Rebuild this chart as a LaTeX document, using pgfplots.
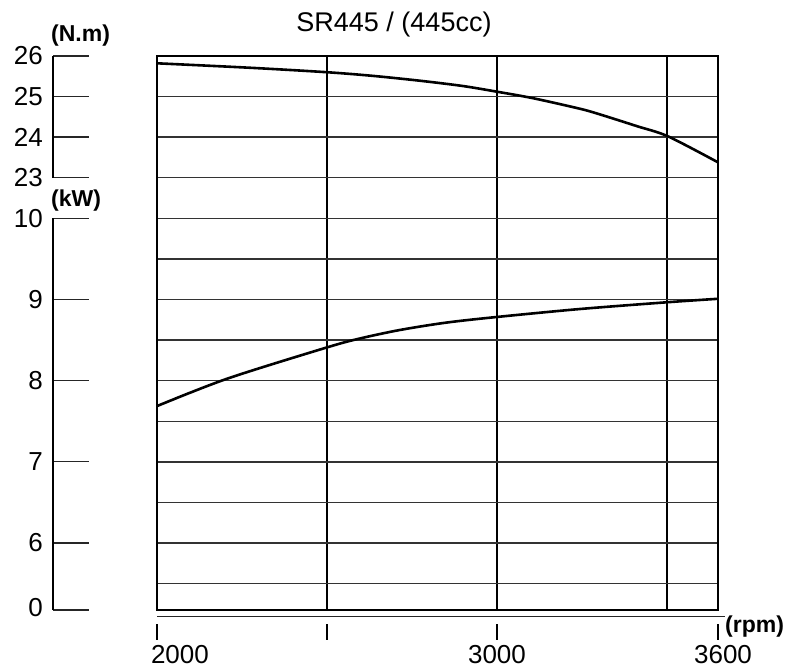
\documentclass[border=0pt]{standalone}
\usepackage{pgfplots}
\pgfplotsset{compat=1.18}
\usepackage{pgfplotstable}
\usepackage{fontspec}
\setmainfont{Liberation Sans}

\pgfplotstableread{
rpm T
2000 25.82
2274 25.71
2500 25.60
2635 25.51
2774 25.39
2900 25.26
3000 25.12
3106 24.96
3244 24.70
3303 24.56
3412 24.27
3503 24.02
3650 23.38
}\torque

\pgfplotstableread{
rpm P
2000 7.687
2206 8.024
2500 8.410
2597 8.520
2715 8.625
2850 8.715
3000 8.785
3244 8.883
3503 8.967
3650 9.009
}\power

\begin{document}
\begin{tikzpicture}[x=1pt,y=1pt]
\useasboundingbox (0,0) rectangle (792,671);

% main chart
\begin{axis}[
  at={(157pt,61pt)}, anchor=south west,
  width=561pt, height=554pt, scale only axis,
  xmin=2000, xmax=3650, ymin=5.175, ymax=12,
  xtick={2000,2500,3000,3500,3650}, ytick={5.5,6,...,12},
  xticklabels={}, yticklabels={},
  major tick length=0pt,
  xmajorgrids, ymajorgrids,
  x grid style={black, line width=2.3pt},
  y grid style={black!80, line width=1.4pt},
  axis line style={black, line width=2.2pt},
]
\addplot[black, line width=2.6pt, smooth] table[x=rpm, y expr=\thisrow{T}/2-1] {\torque};
\addplot[black, line width=2.6pt, smooth] table[x=rpm, y=P] {\power};
\end{axis}

% separate rpm scale below
\draw[black!85, line width=1.3pt] (157,54.5) -- (725,54.5);
\begin{axis}[
  at={(157pt,47pt)}, anchor=south west,
  width=561pt, height=20pt, scale only axis,
  xmin=2000, xmax=3650, ymin=0, ymax=1,
  axis x line=bottom, axis y line=none,
  axis line style={draw=none},
  xtick={2000,2500,3000,3650},
  xticklabels={\makebox[0pt][l]{\hspace{-6pt}2000},,3000,\hspace{10pt}3600},
  tick align=outside, major tick length=16pt,
  xtick style={black, line width=2pt},
  xticklabel style={font=\fontsize{26}{28}\selectfont, anchor=north, inner sep=0pt, yshift=-5pt},
]
\end{axis}
\node[anchor=west, inner sep=0pt, font=\bfseries\fontsize{23}{25}\selectfont] at (725,44) {(rpm)};

% torque scale
\begin{axis}[
  at={(53pt,493.3pt)}, anchor=south west,
  width=36pt, height=121.8pt, scale only axis,
  xmin=0, xmax=1, ymin=23, ymax=26,
  axis y line=left, axis x line=none,
  axis line style={-, black, line width=2pt},
  ytick={23,24,25,26}, yticklabels={23,24,25,26},
  tick align=inside, major tick length=36pt,
  ytick style={black!85, line width=1.3pt},
  yticklabel style={font=\fontsize{26}{28}\selectfont, anchor=east, inner sep=0pt, xshift=-10pt},
]
\end{axis}

% power scale
\begin{axis}[
  at={(53pt,61pt)}, anchor=south west,
  width=36pt, height=391.7pt, scale only axis,
  xmin=0, xmax=1, ymin=5.175, ymax=10,
  axis y line=left, axis x line=none,
  axis line style={-, black, line width=2pt},
  ytick={5.175,6,7,8,9,10}, yticklabels={\raisebox{6pt}{0},6,7,8,9,10},
  tick align=inside, major tick length=36pt,
  ytick style={black!85, line width=1.3pt},
  yticklabel style={font=\fontsize{26}{28}\selectfont, anchor=east, inner sep=0pt, xshift=-10pt},
]
\end{axis}

\node[anchor=west, inner sep=0pt, font=\bfseries\fontsize{23}{25}\selectfont] at (51,635) {(N.m)};
\node[anchor=west, inner sep=0pt, font=\bfseries\fontsize{23}{25}\selectfont] at (51,470) {(kW)};
\node[font=\fontsize{27}{30}\selectfont] at (394,646) {SR445 / (445cc)};
\end{tikzpicture}
\end{document}
